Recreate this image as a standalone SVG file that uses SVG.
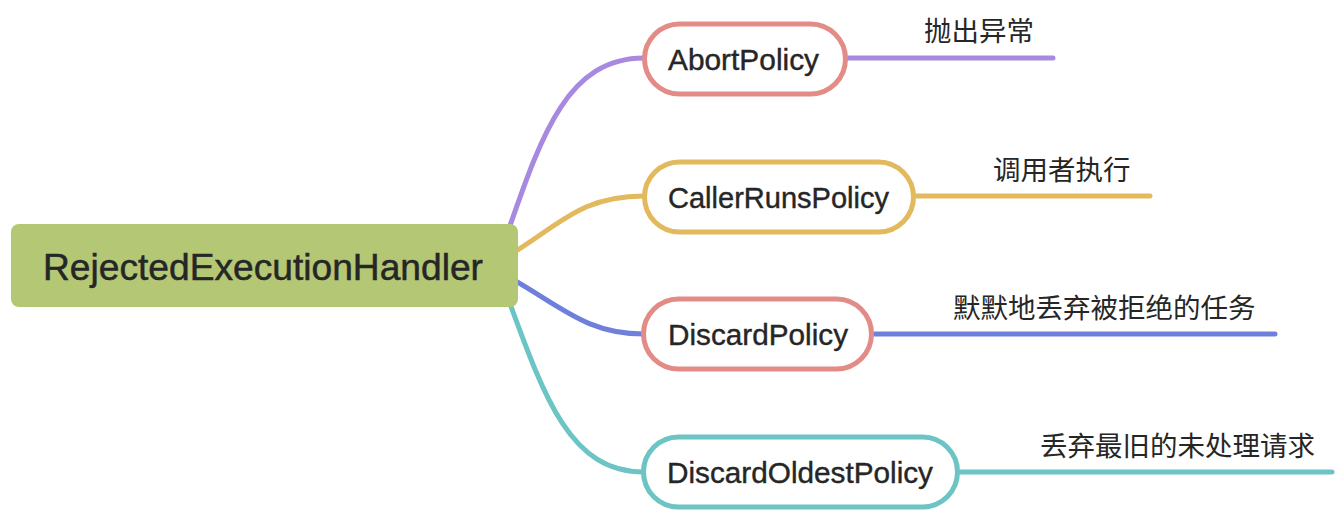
<svg xmlns="http://www.w3.org/2000/svg" width="1342" height="512" viewBox="0 0 1342 512">
<style>
.conn{fill:none;stroke-width:5;stroke-linecap:round}
.node{fill:#ffffff;stroke-width:5}
.lbl{font-family:"Liberation Sans",Arial,sans-serif;font-size:29px;fill:#262626;stroke:#262626;stroke-width:0.4}
.cjk{font-family:"Noto Sans CJK SC","Liberation Sans",sans-serif;font-size:27.5px;fill:#262626}
.root{font-family:"Liberation Sans",Arial,sans-serif;font-size:37px;fill:#262626;stroke:#262626;stroke-width:0.5}
</style>
<rect width="1342" height="512" fill="#ffffff"/>
<g id="connectors">
<path class="conn" stroke="#a78ae0" d="M505 240 C540 140 565 58 644 58 L1053 58"/>
<path class="conn" stroke="#e2b95c" d="M505 258 C560 225 580 196 644 196 L1150 196"/>
<path class="conn" stroke="#6f80dc" d="M505 275 C560 305 585 334 644 334 L1275 334"/>
<path class="conn" stroke="#6dc4c4" d="M505 290 C545 400 570 472 644 472 L1332 472"/>
</g>
<g id="root">
<rect x="11" y="224" width="507" height="83" rx="8" fill="#b3c775"/>
<text class="root" x="43" y="280" textLength="440" lengthAdjust="spacingAndGlyphs">RejectedExecutionHandler</text>
</g>
<g id="abort">
<rect class="node" stroke="#e38c87" x="644.5" y="24" width="201" height="70" rx="35"/>
<text class="lbl" x="668" y="70" textLength="151" lengthAdjust="spacingAndGlyphs">AbortPolicy</text>
<text class="cjk" x="924" y="41">抛出异常</text>
</g>
<g id="callerruns">
<rect class="node" stroke="#e2b95c" x="644.5" y="162" width="269" height="70" rx="35"/>
<text class="lbl" x="668" y="208" textLength="221" lengthAdjust="spacingAndGlyphs">CallerRunsPolicy</text>
<text class="cjk" x="993" y="180">调用者执行</text>
</g>
<g id="discard">
<rect class="node" stroke="#e38c87" x="643.5" y="299" width="228" height="70" rx="35"/>
<text class="lbl" x="668" y="345" textLength="180" lengthAdjust="spacingAndGlyphs">DiscardPolicy</text>
<text class="cjk" x="953" y="318">默默地丢弃被拒绝的任务</text>
</g>
<g id="discardoldest">
<rect class="node" stroke="#6dc4c4" x="643.5" y="437" width="314" height="70" rx="35"/>
<text class="lbl" x="667" y="483" textLength="266" lengthAdjust="spacingAndGlyphs">DiscardOldestPolicy</text>
<text class="cjk" x="1040" y="456">丢弃最旧的未处理请求</text>
</g>
</svg>
